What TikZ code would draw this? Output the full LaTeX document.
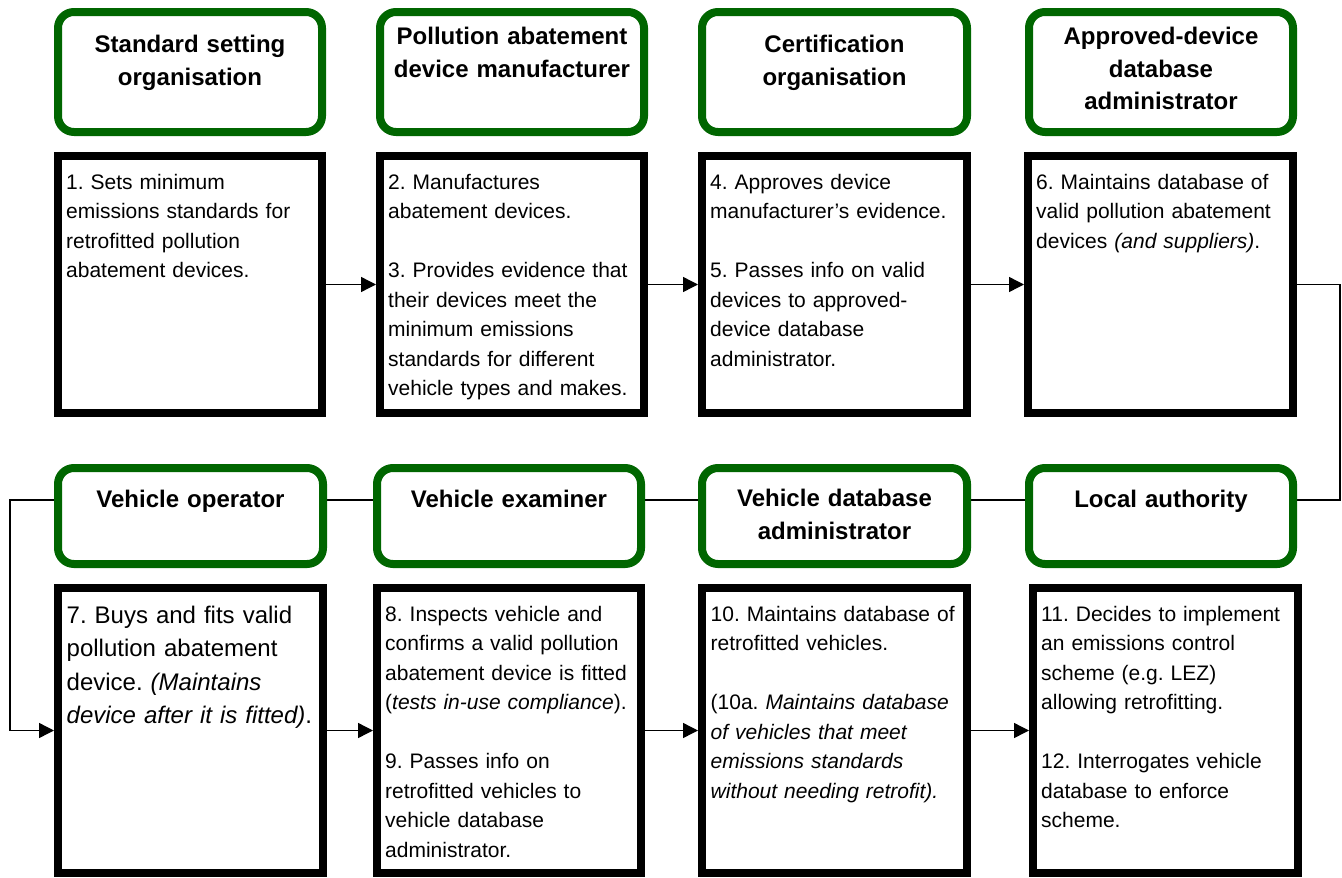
\documentclass[tikz,border=0pt]{standalone}
\usepackage{fontspec}
\setmainfont{Liberation Sans}
\usetikzlibrary{arrows.meta,backgrounds}
\definecolor{hdrgreen}{RGB}{0,102,0}
\frenchspacing

\begin{document}
\begin{tikzpicture}[x=1pt,y=-1pt,
  header/.style={draw=hdrgreen, line width=8pt, rounded corners=16pt, fill=white, inner sep=0pt},
  duty/.style={draw=black, line width=8pt, fill=white, inner sep=0pt},
  htext/.style={font=\fontsize{24}{33}\selectfont\bfseries, align=center, anchor=base, inner sep=0pt, text width=262pt},
  dtext/.style={font=\fontsize{21}{29.5}\selectfont, align=left, anchor=base west, inner sep=0pt, text width=255pt},
  bigtext/.style={dtext, font=\fontsize{24}{33.5}\selectfont},
  flow/.style={line width=1.4pt, -{Triangle[length=15pt,width=15pt]}}
]
\useasboundingbox (0,0) rectangle (1342,878);

% ---- upper row: actor headers ----
\node[header, minimum width=264pt, minimum height=120pt] (h1) at (190,72) {};
\node[header, minimum width=264pt, minimum height=120pt] (h2) at (512,72) {};
\node[header, minimum width=265pt, minimum height=120pt] (h3) at (834.5,72) {};
\node[header, minimum width=264pt, minimum height=120pt] (h4) at (1161,72) {};

\node[htext] (h1t) at (190,52) {Standard setting\\organisation};
\node[htext] (h2t) at (512,44) {Pollution abatement\\device manufacturer};
\node[htext] (h3t) at (834.5,52) {Certification\\organisation};
\node[htext] (h4t) at (1161,44) {Approved-device\\database\\administrator};

% ---- upper row: duties ----
\node[duty, minimum width=264pt, minimum height=257pt] (b1) at (190,284.5) {};
\node[duty, minimum width=264pt, minimum height=257pt] (b2) at (512,284.5) {};
\node[duty, minimum width=265pt, minimum height=257pt] (b3) at (834.5,284.5) {};
\node[duty, minimum width=265pt, minimum height=257pt] (b4) at (1160.5,284.5) {};

\node[dtext] (t1) at (66,189) {1. Sets minimum\\emissions standards for\\retrofitted pollution\\abatement devices.};
\node[dtext] (t2) at (388,189) {2. Manufactures\\abatement devices.\\[29.5pt]3. Provides evidence that\\their devices meet the\\minimum emissions\\standards for different\\vehicle types and makes.};
\node[dtext] (t3) at (710,189) {4. Approves device\\manufacturer’s evidence.\\[29.5pt]5. Passes info on valid\\devices to approved-\\device database\\administrator.};
\node[dtext] (t4) at (1036,189) {6. Maintains database of\\valid pollution abatement\\devices \textit{(and suppliers)}.};

% ---- lower row: actor headers ----
\node[header, minimum width=265pt, minimum height=96pt] (h5) at (190.5,516) {};
\node[header, minimum width=264pt, minimum height=96pt] (h6) at (509,516) {};
\node[header, minimum width=265pt, minimum height=96pt] (h7) at (834.5,516) {};
\node[header, minimum width=264pt, minimum height=96pt] (h8) at (1161,516) {};

\node[htext] (h5t) at (190.5,507) {Vehicle operator};
\node[htext] (h6t) at (509,507) {Vehicle examiner};
\node[htext] (h7t) at (834.5,506) {Vehicle database\\administrator};
\node[htext] (h8t) at (1161,507) {Local authority};

% ---- lower row: duties ----
\node[duty, minimum width=265pt, minimum height=285pt] (b5) at (190.5,730.5) {};
\node[duty, minimum width=264pt, minimum height=285pt] (b6) at (509,730.5) {};
\node[duty, minimum width=265pt, minimum height=285pt] (b7) at (834.5,730.5) {};
\node[duty, minimum width=265pt, minimum height=285pt] (b8) at (1165.5,730.5) {};

\node[bigtext] (t5) at (66.5,623) {7. Buys and fits valid\\pollution abatement\\device. \textit{(Maintains}\\\textit{device after it is fitted)}.};
\node[dtext] (t6) at (385,621) {8. Inspects vehicle and\\confirms a valid pollution\\abatement device is fitted\\(\textit{tests in-use compliance}).\\[29.5pt]9. Passes info on\\retrofitted vehicles to\\vehicle database\\administrator.};
\node[dtext] (t7) at (710.5,621) {10. Maintains database of\\retrofitted vehicles.\\[29.5pt](10a. \textit{Maintains database}\\\textit{of vehicles that meet}\\\textit{emissions standards}\\\textit{without needing retrofit).}};
\node[dtext] (t8) at (1041,621) {11. Decides to implement\\an emissions control\\scheme (e.g. LEZ)\\allowing retrofitting.\\[29.5pt]12. Interrogates vehicle\\database to enforce\\scheme.};

% ---- process flow ----
\coordinate (rturn) at (1340,500);
\coordinate (lturn) at (10,500);
\begin{scope}[on background layer]
  \draw[flow] (b1.east) -- (b2.west);
  \draw[flow] (b2.east) -- (b3.west);
  \draw[flow] (b3.east) -- (b4.west);
  \draw[flow] (b4.east) -| (rturn) -- (lturn) |- (b5.west);
  \draw[flow] (b5.east) -- (b6.west);
  \draw[flow] (b6.east) -- (b7.west);
  \draw[flow] (b7.east) -- (b8.west);
\end{scope}
\end{tikzpicture}
\end{document}
